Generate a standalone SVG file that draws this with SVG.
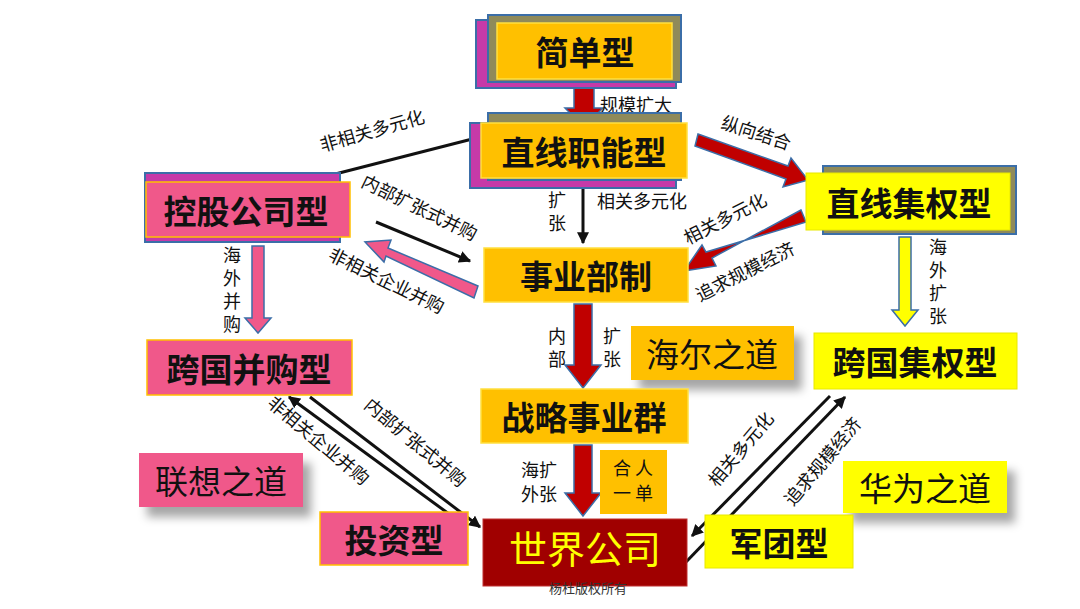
<svg xmlns="http://www.w3.org/2000/svg" width="1080" height="609" viewBox="0 0 1080 609">
<defs>
<style>
text{font-family:"Noto Sans CJK SC","Noto Sans",sans-serif;}
.b{font-size:33px;font-weight:bold;fill:#111;text-anchor:middle;dominant-baseline:central}
.l{font-size:18px;fill:#111;}
.v{font-size:18px;fill:#111;writing-mode:vertical-rl;letter-spacing:5px}
.gold{fill:#FFC000;stroke:#FFE040;stroke-width:1.5}
.pink{fill:#F0588A;stroke:#FFC000;stroke-width:1.5}
.yel{fill:#FFFF00;stroke:#E8E800;stroke-width:1}
.olive{fill:#8F8A5A;stroke:#3B6EA8;stroke-width:2}
.mag{fill:#C63AA8;stroke:#3B6EA8;stroke-width:2}
.blk{stroke:#111;stroke-width:3;fill:none}
.fat{stroke:#3B6EA8;stroke-width:1.5}
</style>
<marker id="ah" viewBox="0 0 10 10" refX="9" refY="5" markerWidth="4" markerHeight="4" orient="auto"><path d="M0,0L10,5L0,10z" fill="#111"/></marker>
<filter id="sh" x="-20%" y="-20%" width="150%" height="170%"><feDropShadow dx="8" dy="10" stdDeviation="5" flood-color="#000" flood-opacity="0.35"/></filter>
</defs>
<rect width="1080" height="609" fill="#fff"/>
<g id="connectors">
<polygon class="fat" fill="#C00000" points="574,86 594,86 594,108 603,108 584,127 565,108 574,108"/>
<line class="blk" x1="484" y1="136" x2="304" y2="182" marker-end="url(#ah)"/>
<polygon class="fat" fill="#C00000" points="698,134 788,166 791,158 808,180 783,187 786,179 695,146"/>
<polygon class="fat" fill="#C00000" points="801,210 712,258 716,266 684,271 702,245 706,252 806,222"/>
<line class="blk" x1="583" y1="180" x2="583" y2="243" marker-end="url(#ah)"/>
<line class="blk" x1="376" y1="222" x2="470" y2="261" marker-end="url(#ah)"/>
<polygon class="fat" fill="#F0588A" points="478,286 388,248 391,240 365,242 384,262 386,256 474,298"/>
<polygon class="fat" fill="#F0588A" points="252,246 264,246 264,318 271,318 258,333 245,318 252,318"/>
<polygon class="fat" fill="#FFFF00" points="899,237 911,237 911,310 918,310 905,326 892,310 899,310"/>
<polygon class="fat" fill="#C00000" points="574,304 592,304 592,365 601,365 583,388 565,365 574,365"/>
<polygon class="fat" fill="#C00000" points="574,445 592,445 592,493 601,493 583,516 565,493 574,493"/>
<line class="blk" x1="460" y1="522" x2="289" y2="397" marker-end="url(#ah)"/>
<line class="blk" x1="310" y1="397" x2="480" y2="527" marker-end="url(#ah)"/>
<line class="blk" x1="830" y1="396" x2="692" y2="536" marker-end="url(#ah)"/>
<line class="blk" x1="686" y1="562" x2="845" y2="397" marker-end="url(#ah)"/>
</g>
<g id="labels">
<text class="l" x="600" y="112">规模扩大</text>
<text class="l" transform="translate(322,152) rotate(-16)">非相关多元化</text>
<text class="l" transform="translate(720,128) rotate(18)">纵向结合</text>
<text class="l" transform="translate(688,245) rotate(-27)">相关多元化</text>
<text class="l" transform="translate(700,302) rotate(-27)">追求规模经济</text>
<text class="v" x="557" y="191">扩张</text>
<text class="l" x="597" y="208">相关多元化</text>
<text class="l" transform="translate(360,186) rotate(26)">内部扩张式并购</text>
<text class="l" transform="translate(327,259) rotate(26)">非相关企业并购</text>
<text class="v" x="232" y="246">海外并购</text>
<text class="v" x="938" y="238">海外扩张</text>
<text class="v" x="557" y="327">内部</text>
<text class="v" x="612" y="327">扩张</text>
<text class="l" x="521" y="477">海扩</text>
<text class="l" x="521" y="501">外张</text>
<text class="l" transform="translate(266,405) rotate(40)">非相关企业并购</text>
<text class="l" transform="translate(363,407) rotate(40)">内部扩张式并购</text>
<text class="l" transform="translate(717,488) rotate(-50)">相关多元化</text>
<text class="l" transform="translate(793,507) rotate(-50)">追求规模经济</text>
</g>
<g id="jiandan"><rect class="mag" x="476" y="20" width="200" height="68"/><rect class="olive" x="488" y="15" width="193" height="67"/><rect class="gold" x="497" y="23" width="175" height="56"/><text class="b" x="585" y="51">简单型</text></g>
<g id="zhixian"><rect class="mag" x="470" y="123" width="206" height="65"/><rect class="olive" x="488" y="113" width="193" height="67"/><rect class="gold" x="481" y="123" width="206" height="55"/><text class="b" x="584" y="151">直线职能型</text></g>
<g id="jiquan"><rect class="olive" x="823" y="166" width="193" height="68"/><rect class="yel" x="806" y="173" width="204" height="57"/><text class="b" x="909" y="202">直线集权型</text></g>
<g id="konggu"><rect class="mag" x="145" y="173" width="195" height="69"/><rect class="pink" x="146" y="182" width="204" height="55"/><text class="b" x="246" y="210">控股公司型</text></g>
<g id="shiyebu"><rect class="gold" x="484" y="248" width="204" height="54"/><text class="b" x="586" y="275">事业部制</text></g>
<g id="binggou"><rect class="pink" x="147" y="340" width="205" height="55"/><text class="b" x="249" y="368">跨国并购型</text></g>
<g id="haier"><rect fill="#FFC000" x="631" y="326" width="163" height="54" filter="url(#sh)"/><text class="b" x="712" y="353" style="font-weight:normal">海尔之道</text></g>
<g id="kuoguo"><rect class="yel" x="814" y="333" width="203" height="56"/><text class="b" x="915" y="361">跨国集权型</text></g>
<g id="zhanlue"><rect class="gold" x="481" y="389" width="207" height="54"/><text class="b" x="584" y="416">战略事业群</text></g>
<g id="heren"><rect fill="#FFC000" x="600" y="450" width="67" height="64"/><text class="l" x="633" y="475" text-anchor="middle" font-size="18">合 人</text><text class="l" x="633" y="500" text-anchor="middle" font-size="18">一 单</text></g>
<g id="lianxiang"><rect fill="#F0588A" x="139" y="453" width="164" height="54" filter="url(#sh)"/><text class="b" x="221" y="480" style="font-weight:normal">联想之道</text></g>
<g id="huawei"><rect fill="#FFFF00" x="843" y="461" width="164" height="52" filter="url(#sh)"/><text class="b" x="925" y="487" style="font-weight:normal">华为之道</text></g>
<g id="touzi"><rect class="pink" x="320" y="512" width="148" height="53"/><text class="b" x="394" y="539">投资型</text></g>
<g id="juntuan"><rect class="yel" x="705" y="515" width="148" height="53"/><text class="b" x="779" y="542">军团型</text></g>
<g id="shijie"><rect fill="#A00000" stroke="#C03030" x="483" y="519" width="204" height="67"/><text class="b" x="585" y="546" style="fill:#FFFF00;font-weight:normal;font-size:38px">世界公司</text><text x="588" y="593" text-anchor="middle" font-size="13" fill="#333" style="font-family:'Noto Sans CJK SC',serif">杨杜版权所有</text></g>
</svg>
